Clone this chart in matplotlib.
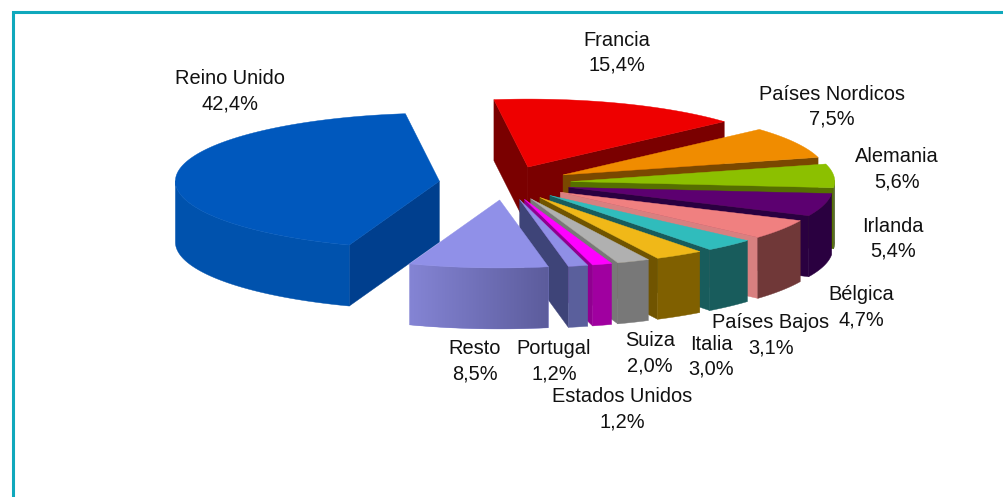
import numpy as np
import matplotlib
matplotlib.use('Agg')
import matplotlib.pyplot as plt
from matplotlib.colors import to_rgb

# ---- data, clockwise from the top ----
names = ['Francia', 'Países Nordicos', 'Alemania', 'Irlanda', 'Bélgica', 'Países Bajos',
         'Italia', 'Suiza', 'Estados Unidos', 'Portugal', 'Resto', 'Reino Unido']
values = [15.4, 7.5, 5.6, 5.4, 4.7, 3.1, 3.0, 2.0, 1.2, 1.2, 8.5, 42.4]

top_cols = ['#ee0000', '#f08c00', '#8cc000', '#5c0070', '#f08080', '#30bcbc',
            '#f0b818', '#b0b0b0', '#ff00ff', '#8f8fe6', '#9090e8', '#0058bd']
wall_cols = ['#8a0000', '#8a5200', '#4a5c20', '#2a0040', '#703838', '#185c5c',
             '#806000', '#787878', '#a000a0', '#5a5f9c', '#8484d4', '#0052ad']
wall_ends = ['#8a0000', '#8a5200', '#4a5c20', '#2a0040', '#703838', '#185c5c',
             '#806000', '#787878', '#a000a0', '#5a5f9c', '#5c5c9c', '#0052ad']
cut_cols = ['#7a0000', '#7a4800', '#556f00', '#2a0040', '#d88080', '#185c5c',
            '#705400', '#787878', '#900090', '#3e4478', '#3e4478', '#003f8e']

# ---- pie layout (pixels) ----
CX, CY = 505, 183
RX, RY = 264, 68
DEPTH = 61
EXPLODE = 0.25
START = 97.4
LINE_GAP = 12.5

label_xy = {'Francia': (617, 52.5), 'Países Nordicos': (832, 106.5), 'Alemania': (897, 169.5),
            'Irlanda': (893, 238.5), 'Bélgica': (861, 307.5), 'Países Bajos': (771, 335.5),
            'Italia': (711, 356.5), 'Suiza': (650, 353.5), 'Estados Unidos': (622, 409.5),
            'Portugal': (554, 361.5), 'Resto': (475, 361.5), 'Reino Unido': (230, 91.5)}


def pt(ax0, ay0, a, r=1.0):
    return ax0 + r * RX * np.cos(a), ay0 - r * RY * np.sin(a)


fig = plt.figure(figsize=(10.04, 4.97), dpi=100)
ax = fig.add_axes([0, 0, 1, 1])
ax.axis('off')

# frame: left and top only
BORDER = '#0fa8bc'
ax.plot([13.5, 13.5, 1004], [497, 11.5, 11.5], color=BORDER, lw=2.2, solid_joinstyle='miter')

# slice angles from the values
angs = START - np.cumsum([0] + values) * 3.6
slices = []
for i, n in enumerate(names):
    hi, lo = np.radians(angs[i]), np.radians(angs[i + 1])
    slices.append((np.sin((hi + lo) / 2), i, hi, lo))

# back slices first; z keeps the polygons and the gradient image in painting order
z = 3
for _, i, hi, lo in sorted(slices, key=lambda s: -s[0]):
    mid = (hi + lo) / 2
    x0, y0 = pt(CX, CY, mid, EXPLODE)

    # flat cut faces, only the ones turned to the viewer
    for a, normal in ((hi, hi + np.pi / 2), (lo, lo - np.pi / 2)):
        if np.sin(normal) < 0:
            xa, ya = pt(x0, y0, a)
            z += 1
            ax.fill([x0, xa, xa, x0], [y0, ya, ya + DEPTH, y0 + DEPTH],
                    color=cut_cols[i], lw=0.3, snap=False, zorder=z)

    # outer wall, front part only
    t = np.linspace(hi, lo, 120)
    t = t[np.sin(t) < 0.02]
    if len(t) > 1:
        xs, ys = pt(x0, y0, t)
        z += 1
        wall = ax.fill(np.r_[xs, xs[::-1]], np.r_[ys, ys[::-1] + DEPTH],
                       color=wall_cols[i], lw=0.3, snap=False, zorder=z)[0]
        if wall_cols[i] != wall_ends[i]:
            # left to right shading, clipped to the wall shape
            c0, c1 = np.array(to_rgb(wall_cols[i])), np.array(to_rgb(wall_ends[i]))
            grad = np.linspace(c0, c1, 64)[None, :, :]
            z += 1
            im = ax.imshow(grad, extent=(xs.min(), xs.max(), ys.max() + DEPTH, ys.min()),
                           aspect='auto', zorder=z)
            im.set_clip_path(wall)

    # top face
    t = np.linspace(hi, lo, 120)
    xs, ys = pt(x0, y0, t)
    z += 1
    ax.fill(np.r_[x0, xs], np.r_[y0, ys], color=top_cols[i], lw=0.3, snap=False, zorder=z)

ax.set_xlim(0, 1004); ax.set_ylim(497, 0)

for n, v in zip(names, values):
    x, y = label_xy[n]
    for line, dy in ((n, -LINE_GAP), (('%.1f' % v).replace('.', ',') + '%', LINE_GAP)):
        ax.text(x, y + dy, line, ha='center', va='center', zorder=z + 1,
                fontsize=14.4, family='Liberation Sans', color='#111111')

fig.savefig('out.png', dpi=100)
